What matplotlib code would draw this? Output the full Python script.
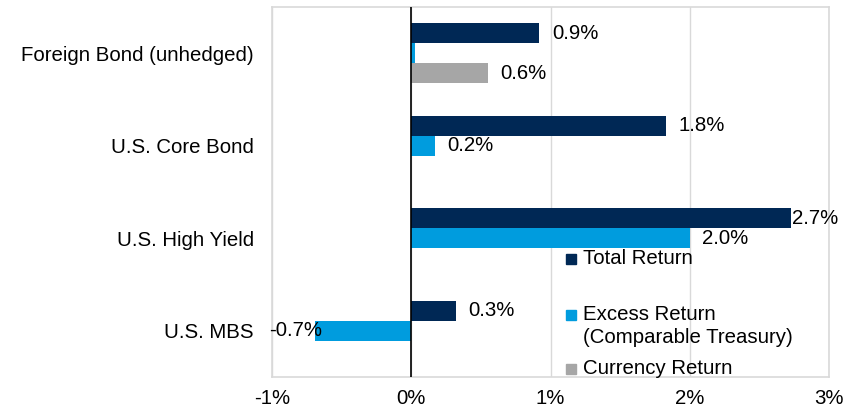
import matplotlib
matplotlib.use("Agg")
import matplotlib.pyplot as plt
from matplotlib.patches import Rectangle
import numpy as np

plt.rcParams['font.family'] = ['Liberation Sans', 'DejaVu Sans']

categories = ["Foreign Bond (unhedged)", "U.S. Core Bond", "U.S. High Yield", "U.S. MBS"]
series_names = ["Total Return", "Excess Return\n(Comparable Treasury)", "Currency Return"]
total_return = [0.92, 1.83, 2.73, 0.32]
excess_return = [0.03, 0.17, 2.00, -0.69]
currency_return = [0.55, None, None, None]
total_labels = ["0.9%", "1.8%", "2.7%", "0.3%"]
excess_labels = [None, "0.2%", "2.0%", "-0.7%"]
currency_labels = ["0.6%", None, None, None]
xticks = [-1, 0, 1, 2, 3]
xtick_labels = ["-1%", "0%", "1%", "2%", "3%"]

colors = ["#002855", "#009CDE", "#A6A6A6"]
FS = 14.7

fig = plt.figure(figsize=(8.6, 4.12), dpi=100)
ax = fig.add_axes([272/860, 1-377/412, (829-272)/860, 370/412])

h = 20/92
y = np.arange(len(categories))
series = [total_return, excess_return, currency_return]
labels = [total_labels, excess_labels, currency_labels]
offsets = [-h, 0, h]
xmax = 3

for vals, labs, off, col in zip(series, labels, offsets, colors):
    for i, (v, lab) in enumerate(zip(vals, labs)):
        if v is None:
            continue
        ax.barh(y[i] + off, v, height=h, color=col, zorder=2)
        if lab is None:
            continue
        if v < 0:
            ax.annotate(lab, (v, y[i] + off), xytext=(5, 0), textcoords='offset points',
                        ha='right', va='center', fontsize=FS, zorder=4)
        elif v + 0.35 > xmax:
            ax.annotate(lab, (v, y[i] + off), xytext=(0.5, 0), textcoords='offset points',
                        ha='left', va='center', fontsize=FS, zorder=4)
        else:
            ax.annotate(lab, (v, y[i] + off), xytext=(9, 0), textcoords='offset points',
                        ha='left', va='center', fontsize=FS, zorder=4)

ax.set_xlim(-1, 3)
ax.set_ylim(3.5, -0.5)
ax.set_xticks(xticks)
ax.set_xticklabels(xtick_labels, fontsize=FS)
ax.set_yticks(y)
ax.set_yticklabels(categories, fontsize=FS)
ax.tick_params(axis='both', length=0)
ax.tick_params(axis='y', pad=13)
ax.tick_params(axis='x', pad=9)
ax.grid(axis='x', color='#D9D9D9', linewidth=1, zorder=0)
for s in ax.spines.values():
    s.set_color('#D9D9D9')
    s.set_linewidth(1.2)
ax.axvline(0, color='black', linewidth=1.2, zorder=3)

# legend (marker aligned with first line of each label)
leg_items = [(series_names[0], colors[0], 259), (series_names[1], colors[1], 315), (series_names[2], colors[2], 369)]
line_px = 22
for name, col, py in leg_items:
    xa = 566
    ax.add_patch(Rectangle(((xa - 272)/557, (377 - py - 5)/370), 10/557, 10/370,
                           transform=ax.transAxes, color=col, clip_on=False, zorder=5))
    nlines = name.count('\n') + 1
    cy = py + (nlines - 1) * line_px / 2
    ax.text((583 - 272)/557, (377 - cy)/370, name, transform=ax.transAxes,
            fontsize=FS, va='center', ha='left', zorder=5, linespacing=1.25)

fig.savefig("out.png", dpi=100)
